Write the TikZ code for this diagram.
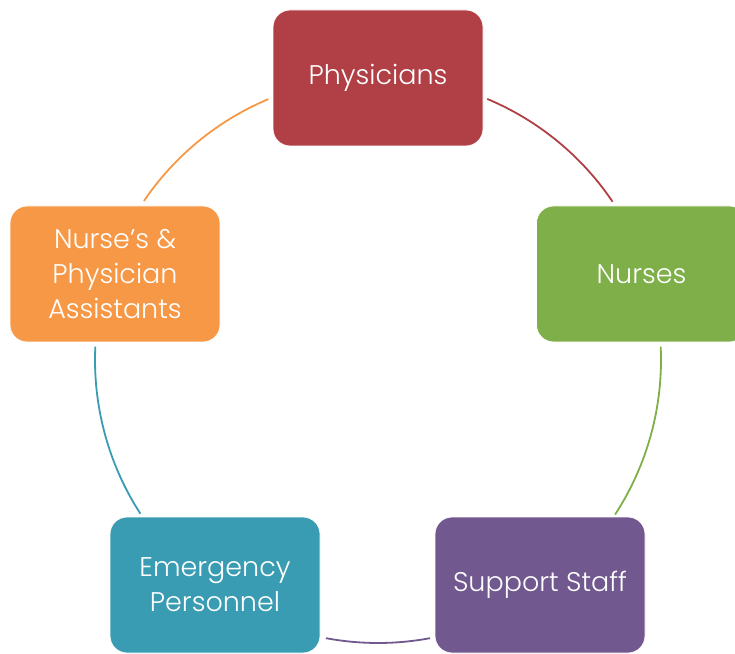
\documentclass[tikz,border=0pt]{standalone}
\usepackage{fontspec}
\setmainfont{Poppins}[UprightFont=* Light]
\definecolor{PhysRed}{HTML}{B04045}
\definecolor{NurseGreen}{HTML}{7FAF48}
\definecolor{StaffPurple}{HTML}{71588E}
\definecolor{EmergTeal}{HTML}{399CB3}
\definecolor{AssistOrange}{HTML}{F69846}
\usepackage{tikz}
\usetikzlibrary{positioning}

\tikzset{
  rolebox/.style={draw=white, line width=0.8pt, rounded corners=17pt,
    minimum width=210pt, minimum height=136pt, inner sep=0pt,
    text=white, align=center, font=\fontsize{27}{35}\selectfont},
  ringline/.style={line width=1.8pt}
}

\begin{document}
\begin{tikzpicture}[x=1pt,y=1pt]
        \useasboundingbox (0,0) rectangle (735,653);
        \coordinate (hub) at (378,293);

        \node[rolebox, fill=PhysRed] (phys) at (378,575) {Physicians};
        \node[rolebox, fill=NurseGreen] (nurses) at (641.5,379) {Nurses};
        \node[rolebox, fill=StaffPurple] (staff) at (540,68) {Support Staff};
        \node[rolebox, fill=EmergTeal] (emerg) at (215,68) {Emergency\\Personnel};
        \node[rolebox, fill=AssistOrange] (assist) at (115,379) {Nurse’s \&\\Physician\\Assistants};

        % ring between the boxes
        \draw[ringline, PhysRed] ([shift={(67.3:283pt)}]hub) arc[start angle=67.3, end angle=34, radius=283pt];
        \draw[ringline, NurseGreen] ([shift={(2.7:283pt)}]hub) arc[start angle=2.7, end angle=-33.1, radius=283pt];
        \draw[ringline, StaffPurple] ([shift={(-79.4:283pt)}]hub) arc[start angle=-79.4, end angle=-100.6, radius=283pt];
        \draw[ringline, EmergTeal] ([shift={(-147.1:283pt)}]hub) arc[start angle=-147.1, end angle=-182.7, radius=283pt];
        \draw[ringline, AssistOrange] ([shift={(145.8:283pt)}]hub) arc[start angle=145.8, end angle=112.8, radius=283pt];
    \end{tikzpicture}
\end{document}
